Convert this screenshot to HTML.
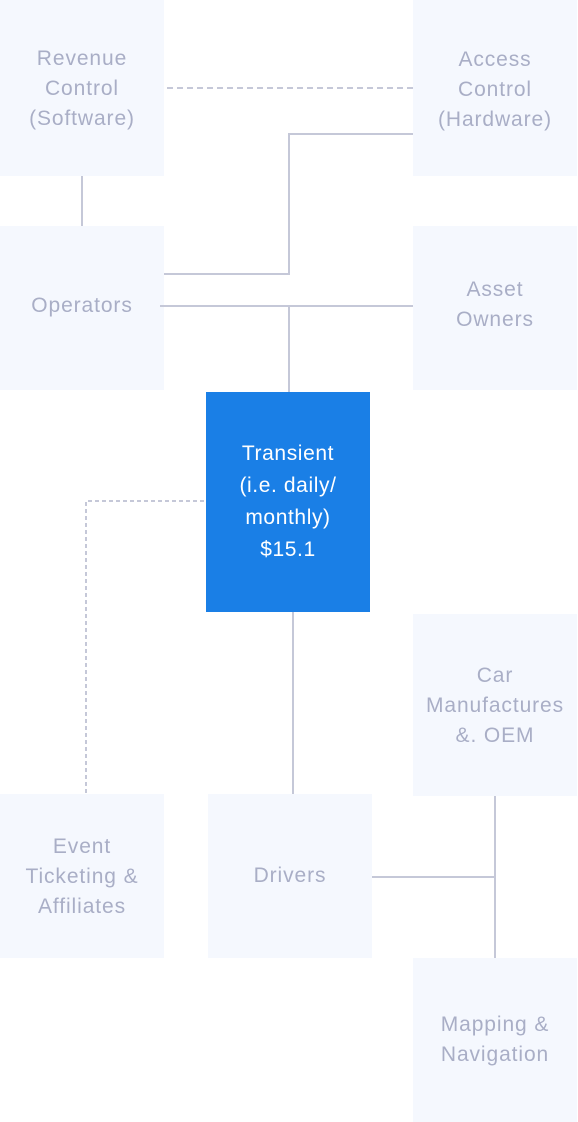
<!DOCTYPE html>
<html><head><style>
body{margin:0;width:578px;height:1122px;background:#fff;position:relative;overflow:hidden;font-family:"Liberation Sans",sans-serif}
.b{position:absolute;background:#f5f8fe;color:#a9aec6;font-size:21px;line-height:30px;display:flex;align-items:center;justify-content:center;text-align:center;letter-spacing:0.9px;white-space:nowrap}
.t{background:#1a7fe6;color:#fff}
svg{position:absolute;left:0;top:0}
</style></head><body>
<div class="b" style="left:0;top:0;width:164px;height:176px;padding-top:2px;box-sizing:border-box">Revenue<br>Control<br>(Software)</div>
<div class="b" style="left:413px;top:0;width:164px;height:176px;padding-top:4px;box-sizing:border-box">Access<br>Control<br>(Hardware)</div>
<div class="b" style="left:0;top:226px;width:164px;height:164px;padding-bottom:4px;box-sizing:border-box">Operators</div>
<div class="b" style="left:413px;top:226px;width:164px;height:164px;padding-bottom:6px;box-sizing:border-box">Asset<br>Owners</div>
<div class="b t" style="left:206px;top:392px;width:164px;height:220px;line-height:32px;letter-spacing:0.6px">Transient<br>(i.e. daily/<br>monthly)<br>$15.1</div>
<div class="b" style="left:413px;top:614px;width:164px;height:182px;padding-top:2px;box-sizing:border-box">Car<br>Manufactures<br>&amp;. OEM</div>
<div class="b" style="left:0;top:794px;width:164px;height:164px;padding-top:2px;box-sizing:border-box">Event<br>Ticketing &amp;<br>Affiliates</div>
<div class="b" style="left:208px;top:794px;width:164px;height:164px">Drivers</div>
<div class="b" style="left:413px;top:958px;width:164px;height:164px">Mapping &amp;<br>Navigation</div>
<svg width="578" height="1122" fill="none" stroke="#c5c8d8" stroke-width="2">
<path d="M167 88H413" stroke-dasharray="6 4"/>
<path d="M82 176V226"/>
<path d="M413 134H289V274H164"/>
<path d="M160 306H413M289 306V392"/>
<path d="M204 501H86V794" stroke-dasharray="4 3"/>
<path d="M293 612V794"/>
<path d="M372 877H495M495 796V958"/>
</svg>
</body></html>
